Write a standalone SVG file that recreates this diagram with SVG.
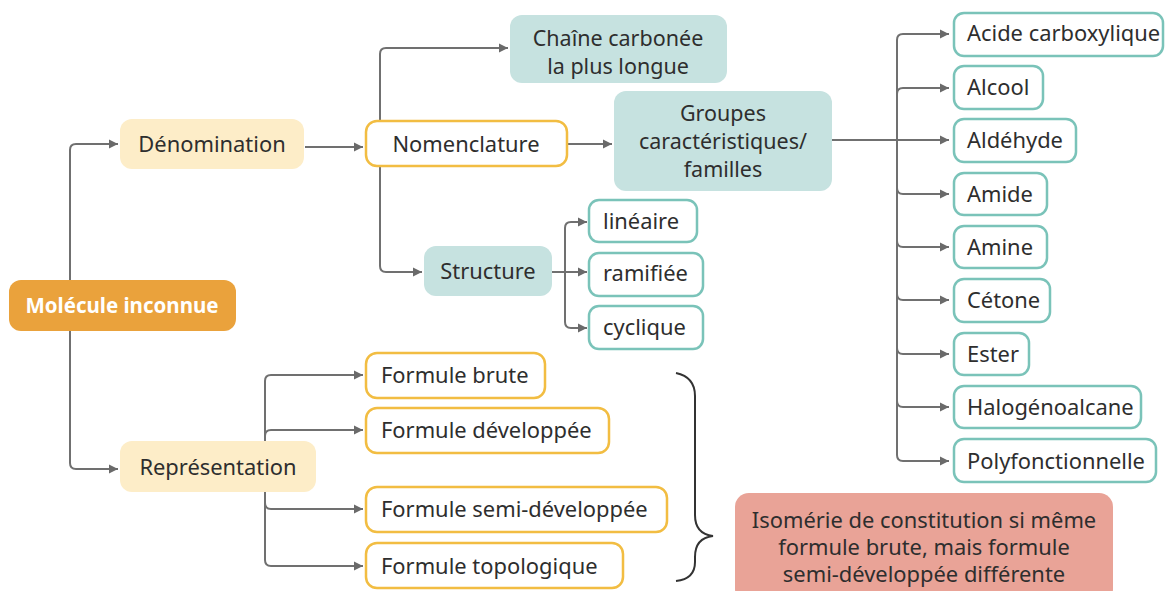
<svg xmlns="http://www.w3.org/2000/svg" width="1167" height="591" viewBox="0 0 1167 591">
<style>
text{font-family:"Noto Sans","Open Sans","DejaVu Sans",sans-serif;font-size:21.9px;fill:#2e2e2e}
.c{text-anchor:middle}
.m{font-size:21.5px}
.w{fill:#fff;font-weight:bold;font-size:20.5px}
.orange{fill:#eaa23c}
.cream{fill:#fdedc8}
.tealf{fill:#c6e2e0}
.yel{fill:#fff;stroke:#f2bd42;stroke-width:2.5}
.teal{fill:#fff;stroke:#7ac3b9;stroke-width:2.5}
.salmon{fill:#e9a397}
.conn path{fill:none;stroke:#707070;stroke-width:2}
.arr{marker-end:url(#ah)}
.brace{fill:none;stroke:#333;stroke-width:2}
</style>
<defs>
<marker id="ah" markerUnits="userSpaceOnUse" markerWidth="10" markerHeight="10" refX="9" refY="5" orient="auto">
<path d="M0,0.5 L9,5 L0,9.5 z" fill="#6a6a6a"/>
</marker>
</defs>
<rect width="1167" height="591" fill="#fff"/>

<g class="conn" id="connectors">
<path class="arr" d="M70,280 V150 Q70,144 76,144 H118"/>
<path class="arr" d="M70,331 V463 Q70,469 76,469 H118"/>
<path class="arr" d="M305,147 H363"/>
<path class="arr" d="M380,121 V54 Q380,48 386,48 H508"/>
<path class="arr" d="M380,166 V266 Q380,272 386,272 H422"/>
<path class="arr" d="M567,144 H612"/>
<path class="arr" d="M552,272 H565 V228 Q565,222 571,222 H587"/>
<path class="arr" d="M565,272 H587"/>
<path class="arr" d="M565,272 V322 Q565,328 571,328 H587"/>
<path class="arr" d="M832,140 H949"/>
<path class="arr" d="M897,140 V40 Q897,34 903,34 H949"/>
<path class="arr" d="M897,94 Q897,88 903,88 H949"/>
<path class="arr" d="M897,188 Q897,194 903,194 H949"/>
<path class="arr" d="M897,241 Q897,247 903,247 H949"/>
<path class="arr" d="M897,294 Q897,300 903,300 H949"/>
<path class="arr" d="M897,348 Q897,354 903,354 H949"/>
<path class="arr" d="M897,401 Q897,407 903,407 H949"/>
<path class="arr" d="M897,140 V455 Q897,461 903,461 H949"/>
<path class="arr" d="M265,441 V381 Q265,375 271,375 H363"/>
<path class="arr" d="M265,441 V436 Q265,430 271,430 H363"/>
<path class="arr" d="M265,492 V503 Q265,509 271,509 H363"/>
<path class="arr" d="M265,492 V560 Q265,566 271,566 H363"/>
</g>

<g id="molecule"><rect class="orange" x="9" y="280" width="227" height="51" rx="12"/><text class="c w" x="122" y="313">Molécule inconnue</text></g>
<g id="denomination"><rect class="cream" x="120" y="119" width="184" height="50" rx="12"/><text class="c" x="212" y="152">Dénomination</text></g>
<g id="representation"><rect class="cream" x="120" y="441" width="196" height="51" rx="12"/><text class="c" x="218" y="475">Représentation</text></g>
<g id="nomenclature"><rect class="yel" x="366" y="121" width="201" height="45" rx="11"/><text class="c" x="466" y="152">Nomenclature</text></g>
<g id="chaine"><rect class="tealf" x="510" y="15" width="217" height="68" rx="12"/><text class="c m" x="618" y="46">Chaîne carbonée<tspan x="618" y="74">la plus longue</tspan></text></g>
<g id="groupes"><rect class="tealf" x="614" y="91" width="218" height="100" rx="12"/><text class="c m" x="723" y="121">Groupes<tspan x="723" y="149">caractéristiques/</tspan><tspan x="723" y="177">familles</tspan></text></g>
<g id="structure"><rect class="tealf" x="424" y="246" width="128" height="50" rx="12"/><text class="c" x="488" y="279">Structure</text></g>

<g id="lineaire"><rect class="teal" x="589" y="200" width="108" height="42" rx="10"/><text x="603" y="229">linéaire</text></g>
<g id="ramifiee"><rect class="teal" x="589" y="253" width="114" height="43" rx="10"/><text x="603" y="281">ramifiée</text></g>
<g id="cyclique"><rect class="teal" x="589" y="306" width="114" height="43" rx="10"/><text x="603" y="335">cyclique</text></g>

<g id="acide"><rect class="teal" x="954" y="13" width="209" height="43" rx="10"/><text x="967" y="41">Acide carboxylique</text></g>
<g id="alcool"><rect class="teal" x="954" y="66" width="89" height="43" rx="10"/><text x="967" y="95">Alcool</text></g>
<g id="aldehyde"><rect class="teal" x="954" y="119" width="122" height="43" rx="10"/><text x="967" y="148">Aldéhyde</text></g>
<g id="amide"><rect class="teal" x="954" y="173" width="93" height="42" rx="10"/><text x="967" y="202">Amide</text></g>
<g id="amine"><rect class="teal" x="954" y="226" width="93" height="42" rx="10"/><text x="967" y="255">Amine</text></g>
<g id="cetone"><rect class="teal" x="954" y="279" width="96" height="43" rx="10"/><text x="967" y="308">Cétone</text></g>
<g id="ester"><rect class="teal" x="954" y="333" width="75" height="42" rx="10"/><text x="967" y="362">Ester</text></g>
<g id="halogeno"><rect class="teal" x="954" y="386" width="187" height="42" rx="10"/><text x="967" y="415">Halogénoalcane</text></g>
<g id="polyf"><rect class="teal" x="954" y="439" width="202" height="43" rx="10"/><text x="967" y="469">Polyfonctionnelle</text></g>

<g id="brute"><rect class="yel" x="366" y="353" width="179" height="45" rx="11"/><text x="381" y="383">Formule brute</text></g>
<g id="developpee"><rect class="yel" x="366" y="408" width="243" height="45" rx="11"/><text x="381" y="438">Formule développée</text></g>
<g id="semi"><rect class="yel" x="366" y="487" width="301" height="45" rx="11"/><text x="381" y="517">Formule semi-développée</text></g>
<g id="topo"><rect class="yel" x="366" y="543" width="257" height="45" rx="11"/><text x="381" y="574">Formule topologique</text></g>

<g id="brace"><path class="brace" d="M676,373 Q695,377 695,396 V515 Q695,534 713,536 Q695,538 695,557 V562 Q695,579 676,581"/></g>

<g id="isomerie"><rect class="salmon" x="735" y="493" width="378" height="110" rx="14"/><text class="c" x="924" y="528">Isomérie de constitution si même<tspan x="924" y="555">formule brute, mais formule</tspan><tspan x="924" y="582">semi-développée différente</tspan></text></g>
</svg>
